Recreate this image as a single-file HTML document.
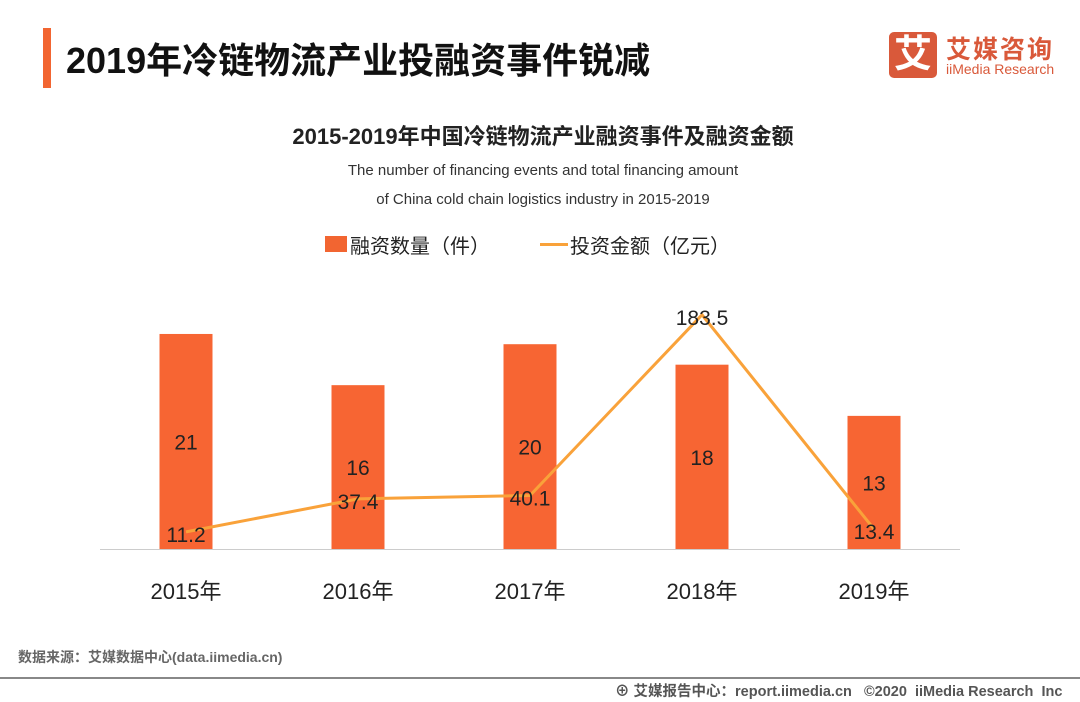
<!DOCTYPE html>
<html><head><meta charset="utf-8"><style>
body{margin:0;width:1080px;height:702px;background:#fff;overflow:hidden;position:relative;font-family:"Liberation Sans","Noto Sans CJK SC",sans-serif}
.a{position:absolute;white-space:nowrap}
</style></head><body>
<div class="a" style="left:43px;top:28px;width:8px;height:60px;background:#f26531"></div>
<div class="a" style="left:66px;top:32px;font-size:36px;font-weight:bold;color:#111">2019年冷链物流产业投融资事件锐减</div>
<div class="a" style="left:889px;top:32px;width:48px;height:46px;background:#d9593a;border-radius:5px;color:#fff;font-size:38px;font-weight:bold;text-align:center;line-height:46px">艾</div>
<div class="a" style="left:946px;top:30px;font-size:25px;font-weight:bold;color:#d9593a;letter-spacing:2px">艾媒咨询</div>
<div class="a" style="left:946px;top:61px;font-size:14px;color:#d9593a">iiMedia Research</div>
<div class="a" style="left:0;width:1086px;text-align:center;top:119px;font-size:22px;font-weight:bold;color:#222">2015-2019年中国冷链物流产业融资事件及融资金额</div>
<div class="a" style="left:293px;width:500px;text-align:center;top:156px;font-size:15px;color:#333;line-height:29px">The number of financing events and total financing amount<br>of China cold chain logistics industry in 2015-2019</div>
<div class="a" style="left:325px;top:236px;width:22px;height:16px;background:#f26531"></div>
<div class="a" style="left:350px;top:230px;font-size:20px;color:#222">融资数量（件）</div>
<div class="a" style="left:540px;top:243px;width:28px;height:3px;background:#f9a23a"></div>
<div class="a" style="left:570px;top:230px;font-size:20px;color:#222">投资金额（亿元）</div>
<svg class="a" style="left:0;top:0" width="1080" height="702" id="chart"></svg>
<div class="a" style="left:18px;top:647px;font-size:14px;font-weight:bold;color:#666">数据来源：艾媒数据中心(data.iimedia.cn)</div>
<div class="a" style="left:0;top:677px;width:1080px;height:2px;background:#888"></div>
<div class="a" style="left:615px;top:680px;font-size:14.5px;font-weight:bold;color:#555">⊕ 艾媒报告中心：report.iimedia.cn &nbsp; ©2020 &nbsp;iiMedia Research &nbsp;Inc</div>
<script>
const categories=["2015年","2016年","2017年","2018年","2019年"];
const counts=[21,16,20,18,13];
const amounts=[11.2,37.4,40.1,183.5,13.4];
const svg=document.getElementById('chart');
const NS='http://www.w3.org/2000/svg';
const base=549;
function xPos(i){return 186+i*172;}
function yBar(v){return base-v*10.24;}
function yLine(v){return 546-v*1.26;}
function mk(t,a){const e=document.createElementNS(NS,t);for(const k in a)e.setAttribute(k,a[k]);svg.appendChild(e);return e;}
const ax=mk('line',{x1:100,x2:960,y1:base+0.5,y2:base+0.5,stroke:'#ccc','stroke-width':1});


counts.forEach((v,i)=>{
 const r=mk('rect',{x:xPos(i)-26.5,y:yBar(v),width:53,height:base-yBar(v),fill:'#f76533'});
 
 
 const t=mk('text',{x:xPos(i),y:(yBar(v)+base)/2+8,'text-anchor':'middle','font-size':21,fill:'#222'});
 t.textContent=v;
 
 
 const c=mk('text',{x:xPos(i),y:599,'text-anchor':'middle','font-size':22,fill:'#222'});
 c.textContent=categories[i];
 
 
});
const pl=mk('polyline',{points:amounts.map((v,i)=>xPos(i)+','+yLine(v)).join(' '),fill:'none',stroke:'#f9a23a','stroke-width':3});


amounts.forEach((v,i)=>{
 const t=mk('text',{x:xPos(i),y:yLine(v)+10,'text-anchor':'middle','font-size':21,fill:'#222'});
 t.textContent=v;
 
 
});
</script>
</body></html>
